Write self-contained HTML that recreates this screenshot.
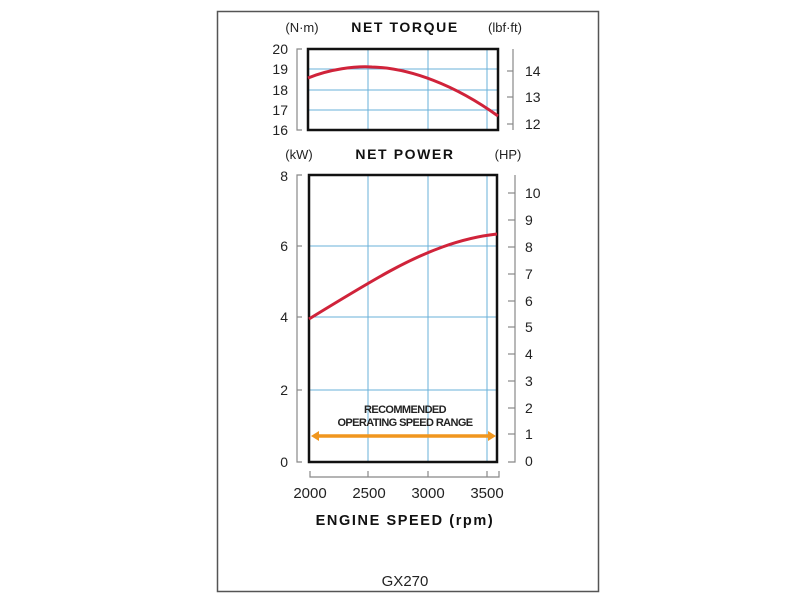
<!DOCTYPE html>
<html><head><meta charset="utf-8"><style>
body{margin:0;background:#fff;}
svg{display:block;}
text{font-family:"Liberation Sans",sans-serif;fill:#222;}
.b{font-weight:bold;letter-spacing:1.6px;fill:#111;}
</style></head><body>
<svg width="800" height="600" viewBox="0 0 800 600">
<rect x="217.5" y="11.5" width="381" height="580" fill="#fff" stroke="#555" stroke-width="1.5"/>
<!-- torque -->
<text x="302" y="32" font-size="13" text-anchor="middle">(N·m)</text>
<text x="405" y="32" font-size="14" class="b" text-anchor="middle">NET TORQUE</text>
<text x="505" y="32" font-size="13" text-anchor="middle">(lbf·ft)</text>
<g stroke="#6ab0d8" stroke-width="1">
<line x1="368" y1="49" x2="368" y2="130"/><line x1="428" y1="49" x2="428" y2="130"/><line x1="487" y1="49" x2="487" y2="130"/>
<line x1="308" y1="69" x2="498" y2="69"/><line x1="308" y1="90" x2="498" y2="90"/><line x1="308" y1="110" x2="498" y2="110"/>
</g>
<rect x="308" y="49" width="190" height="81" fill="none" stroke="#111" stroke-width="2.5"/>
<path d="M308,78 C330,69 355,66 372,67 C410,68 455,85 498,116" fill="none" stroke="#d0233a" stroke-width="3"/>
<g stroke="#888" stroke-width="1.2" fill="none">
<path d="M302,49 H297 V130 H302"/>
<path d="M513,49 V130"/><line x1="507" y1="71" x2="513" y2="71"/><line x1="507" y1="97" x2="513" y2="97"/><line x1="507" y1="124" x2="513" y2="124"/>
</g>
<g font-size="14" text-anchor="end">
<text x="288" y="54">20</text><text x="288" y="74">19</text><text x="288" y="95">18</text><text x="288" y="115">17</text><text x="288" y="135">16</text>
</g>
<g font-size="14" text-anchor="start">
<text x="525" y="76">14</text><text x="525" y="102">13</text><text x="525" y="129">12</text>
</g>
<!-- power -->
<text x="299" y="159" font-size="13" text-anchor="middle">(kW)</text>
<text x="405" y="159" font-size="14" class="b" text-anchor="middle">NET POWER</text>
<text x="508" y="159" font-size="13" text-anchor="middle">(HP)</text>
<g stroke="#6ab0d8" stroke-width="1">
<line x1="368" y1="175" x2="368" y2="462"/><line x1="428" y1="175" x2="428" y2="462"/><line x1="487" y1="175" x2="487" y2="462"/>
<line x1="309" y1="246" x2="497" y2="246"/><line x1="309" y1="317" x2="497" y2="317"/><line x1="309" y1="390" x2="497" y2="390"/>
</g>
<rect x="309" y="175" width="188" height="287" fill="none" stroke="#111" stroke-width="2.5"/>
<path d="M309,319 C340,300 368,283 390,271 C425,252 460,238 497,234" fill="none" stroke="#d0233a" stroke-width="3"/>
<g stroke="#888" stroke-width="1.2" fill="none">
<path d="M302,175 H297 V462 H302"/>
<line x1="297" y1="246" x2="302" y2="246"/><line x1="297" y1="317" x2="302" y2="317"/><line x1="297" y1="390" x2="302" y2="390"/>
<path d="M515,175 V462 H508"/>
<line x1="508" y1="193" x2="515" y2="193"/><line x1="508" y1="220" x2="515" y2="220"/><line x1="508" y1="247" x2="515" y2="247"/><line x1="508" y1="274" x2="515" y2="274"/><line x1="508" y1="301" x2="515" y2="301"/><line x1="508" y1="327" x2="515" y2="327"/><line x1="508" y1="354" x2="515" y2="354"/><line x1="508" y1="381" x2="515" y2="381"/><line x1="508" y1="408" x2="515" y2="408"/><line x1="508" y1="434" x2="515" y2="434"/>
<path d="M310,471 V477 H499 V471"/><line x1="368" y1="471" x2="368" y2="477"/><line x1="428" y1="471" x2="428" y2="477"/><line x1="487" y1="471" x2="487" y2="477"/>
</g>
<g font-size="14" text-anchor="end">
<text x="288" y="181">8</text><text x="288" y="251">6</text><text x="288" y="322">4</text><text x="288" y="395">2</text><text x="288" y="467">0</text>
</g>
<g font-size="14" text-anchor="start">
<text x="525" y="198">10</text><text x="525" y="225">9</text><text x="525" y="252">8</text><text x="525" y="279">7</text><text x="525" y="306">6</text><text x="525" y="332">5</text><text x="525" y="359">4</text><text x="525" y="386">3</text><text x="525" y="413">2</text><text x="525" y="439">1</text><text x="525" y="466">0</text>
</g>
<text x="405" y="413" font-size="11" font-weight="bold" text-anchor="middle" letter-spacing="-0.6">RECOMMENDED</text>
<text x="405" y="426" font-size="11" font-weight="bold" text-anchor="middle" letter-spacing="-0.6">OPERATING SPEED RANGE</text>
<line x1="316" y1="436" x2="491" y2="436" stroke="#f0961e" stroke-width="3.5"/>
<polygon points="311,436 319,431 319,441" fill="#f0961e"/>
<polygon points="496,436 488,431 488,441" fill="#f0961e"/>
<g font-size="15" text-anchor="middle">
<text x="310" y="498">2000</text><text x="369" y="498">2500</text><text x="428" y="498">3000</text><text x="487" y="498">3500</text>
</g>
<text x="405" y="525" font-size="14.5" class="b" text-anchor="middle">ENGINE SPEED (rpm)</text>
<text x="405" y="586" font-size="15" text-anchor="middle">GX270</text>
</svg>
</body></html>
